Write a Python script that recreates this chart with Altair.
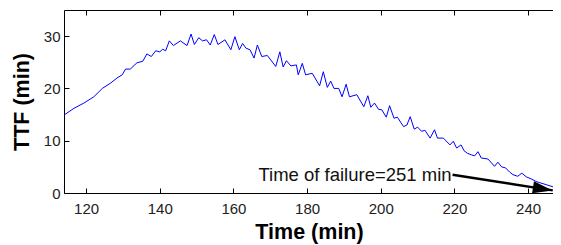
import altair as alt
import pandas as pd

time_min = [114.0, 116.7, 119.4, 122.1, 124.4, 126.6, 128.4, 129.8, 130.7, 132.0,
            133.8, 135.4, 136.5, 137.7, 138.9, 140.0, 140.8, 141.6, 142.6, 143.7,
            145.6, 147.4, 148.5, 149.4, 150.6, 151.6, 152.7, 153.7, 154.8, 155.8,
            157.7, 159.3, 160.4, 161.6, 162.5, 163.4, 164.5, 165.6, 166.5, 167.7,
            169.2, 171.5, 172.6, 173.5, 174.4, 175.6, 177.1, 177.6, 178.7, 179.6,
            181.4, 183.4, 184.4, 185.5, 186.4, 187.3, 188.6, 189.5, 190.6, 191.5,
            193.5, 195.4, 196.5, 197.3, 198.3, 199.4, 200.3, 201.5, 202.4, 203.6,
            204.5, 206.2, 207.1, 208.0, 209.1, 210.0, 211.1, 212.0, 213.4, 214.6,
            215.4, 217.0, 218.8, 219.7, 220.6, 221.8, 222.6, 223.5, 224.6, 225.5,
            226.4, 227.3, 229.1, 230.9, 231.8, 232.8, 233.9, 235.0, 235.9, 237.2,
            238.3, 239.5, 240.8, 242.2, 243.5, 244.9, 246.2, 247.6, 249.0]
ttf_min = [14.9, 16.2, 17.2, 18.4, 20.0, 21.0, 22.0, 22.6, 23.7, 23.7,
           24.9, 25.2, 26.6, 26.1, 27.2, 27.0, 27.5, 27.2, 29.1, 28.2,
           29.1, 28.2, 30.4, 28.4, 29.7, 29.1, 29.3, 28.3, 30.3, 28.4,
           29.3, 27.4, 29.9, 27.4, 28.6, 27.7, 27.4, 25.8, 28.3, 26.1,
           26.3, 24.2, 27.0, 24.1, 25.3, 24.3, 24.5, 22.6, 24.8, 22.6,
           22.9, 20.5, 23.2, 20.2, 21.4, 20.0, 20.0, 18.4, 20.8, 18.4,
           18.8, 16.5, 18.6, 16.4, 17.2, 16.0, 15.9, 14.5, 16.7, 14.3,
           14.5, 12.7, 13.0, 14.6, 12.2, 12.6, 11.8, 12.0, 10.5, 12.1,
           10.5, 10.5, 9.2, 9.9, 8.6, 9.2, 8.1, 7.6, 7.3, 7.1,
           7.9, 6.7, 6.5, 5.1, 5.9, 5.0, 4.8, 4.0, 3.5, 3.2,
           3.8, 3.1, 2.7, 2.2, 1.9, 1.6, 1.3, 1.0, 0.8]

x_ticks = [120, 140, 160, 180, 200, 220, 240]
y_ticks = [0, 10, 20, 30]
x_domain = [114, 247.04]
y_domain = [0, 35]

annot_text = "Time of failure=251 min"
arrow_start = [219.5, 3.5]
arrow_end = [246.7, 0.5]

df = pd.DataFrame({"t": time_min, "ttf": ttf_min})
arrow_df = pd.DataFrame({"t": [arrow_start[0], arrow_end[0]], "ttf": [arrow_start[1], arrow_end[1]]})
head_df = pd.DataFrame({"t": [arrow_end[0]], "ttf": [arrow_end[1]]})
text_df = pd.DataFrame({"t": [arrow_start[0]], "ttf": [arrow_start[1]], "label": [annot_text]})

FONT = "Liberation Sans"

xs = alt.Scale(domain=x_domain, nice=False, zero=False)
ys = alt.Scale(domain=y_domain, nice=False, zero=False)

x_bottom = alt.X("t:Q", scale=xs, axis=alt.Axis(
    orient="bottom", values=x_ticks, domain=False, grid=False, tickSize=5, offset=-5, tickColor="black",
    labelPadding=8, labelFontSize=15, labelColor="#222", labelFont=FONT,
    title="Time (min)", titleFontSize=21.5, titleFontWeight="bold", titleFont=FONT,
    titleColor="black", titlePadding=5))
y_left = alt.Y("ttf:Q", scale=ys, axis=alt.Axis(
    values=y_ticks, domain=False, grid=False, tickSize=5, offset=-5, tickColor="black",
    labelPadding=4, labelFontSize=15, labelColor="#222", labelFont=FONT,
    title="TTF (min)", titleFontSize=21.5, titleFontWeight="bold", titleFont=FONT,
    titleColor="black", titlePadding=10))

line = alt.Chart(df).mark_line(color="#0000FF", strokeWidth=1, clip=True).encode(x=x_bottom, y=y_left)

shaft = alt.Chart(arrow_df).mark_line(color="black", strokeWidth=2.5).encode(
    x=alt.X("t:Q", scale=xs), y=alt.Y("ttf:Q", scale=ys))

head = alt.Chart(head_df).mark_point(
    shape="M0,0 L-2,-0.6 L-2,0.6 Z", filled=True, color="black", opacity=1,
    size=400, angle=9).encode(x=alt.X("t:Q", scale=xs), y=alt.Y("ttf:Q", scale=ys))

text = alt.Chart(text_df).mark_text(
    align="right", baseline="middle", dx=-1, fontSize=18.5, font=FONT, color="#111").encode(
    x=alt.X("t:Q", scale=xs), y=alt.Y("ttf:Q", scale=ys), text="label:N")

top_ticks = alt.Chart(head_df).mark_point(opacity=0).encode(
    x=alt.X("t:Q", scale=xs, axis=alt.Axis(orient="top", values=x_ticks, domain=False, grid=False,
                                           tickSize=5, offset=-5, tickColor="black",
                                           labels=False, title=None)),
    y=alt.Y("ttf:Q", scale=ys))

main = alt.layer(line, shaft, head, text)

chart = alt.layer(main, top_ticks).resolve_scale(x="independent").properties(
    width=490, height=183,
    autosize=alt.AutoSizeParams(type="none"),
    padding={"left": 56, "top": 2, "right": -1, "bottom": 52},
    background="white",
).configure_view(stroke="black", strokeWidth=1)

chart.save("out.html", embed_options={"renderer": "svg", "actions": False})
